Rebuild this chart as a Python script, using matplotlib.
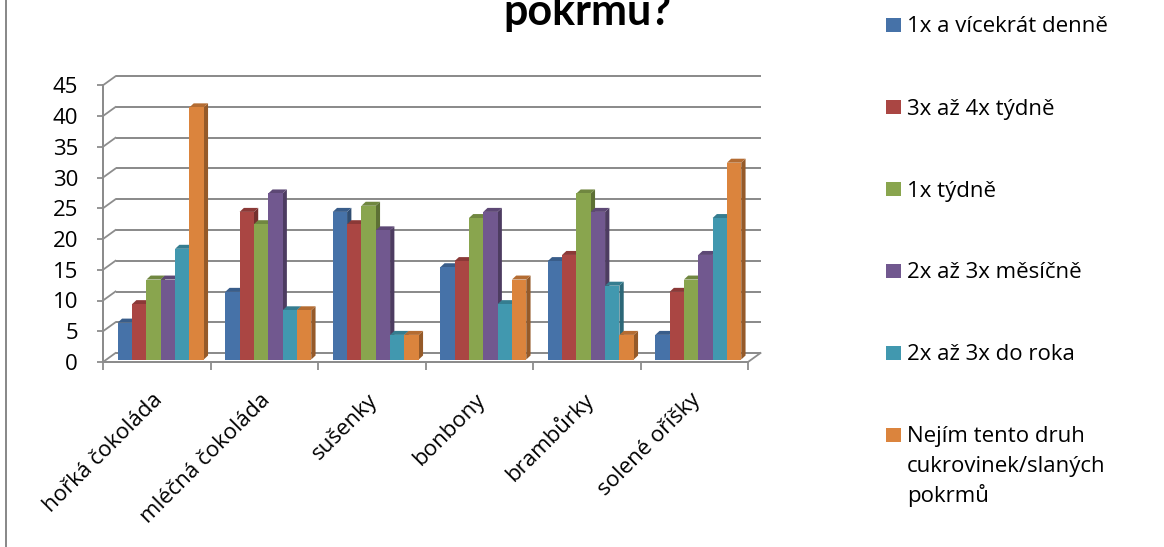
import matplotlib
matplotlib.use('Agg')
import matplotlib.pyplot as plt
from matplotlib.patches import Polygon, Rectangle
from matplotlib.lines import Line2D
from matplotlib import font_manager
from matplotlib.transforms import ScaledTranslation
import numpy as np

# ---------------- data ----------------
categories = ['hořká čokoláda', 'mléčná čokoláda', 'sušenky', 'bonbony',
              'brambůrky', 'solené oříšky']
series_names = ['1x a vícekrát denně', '3x až 4x týdně', '1x týdně',
                '2x až 3x měsíčně', '2x až 3x do roka',
                'Nejím tento druh\ncukrovinek/slaných\npokrmů']
s_daily = [6, 11, 24, 15, 16, 4]
s_3_4_week = [9, 24, 22, 16, 17, 11]
s_1_week = [13, 22, 25, 23, 27, 13]
s_2_3_month = [13, 27, 21, 24, 24, 17]
s_2_3_year = [18, 8, 4, 9, 12, 23]
s_never = [41, 8, 4, 13, 4, 32]
series = [s_daily, s_3_4_week, s_1_week, s_2_3_month, s_2_3_year, s_never]
y_ticks = [0, 5, 10, 15, 20, 25, 30, 35, 40, 45]
title_text = 'pokrmů?'

colors = ['#4672A8', '#AA4643', '#89A54E', '#71588F', '#4198AF', '#DB843D']

FONT = 'Open Sans'
plt.rcParams['font.family'] = [FONT, 'DejaVu Sans']

def has_font(name):
    try:
        font_manager.findfont(font_manager.FontProperties(family=name),
                              fallback_to_default=False)
        return True
    except Exception:
        return False

TITLE_FONT = 'Liberation Sans Narrow' if has_font('Liberation Sans Narrow') else 'Lato'

# ---------------- geometry (pixels) ----------------
W, H = 1164, 547
DPI = 100
x0px, x1px = 103, 748
y0px = 362
ppu_y = 6.15
ppu_x = (x1px - x0px) / 6.0

def px2pt(p):
    return p * 72.0 / DPI

fig = plt.figure(figsize=(W / DPI, H / DPI), dpi=DPI)
fig.patch.set_facecolor('white')
ax = fig.add_axes([x0px / W, (H - y0px) / H, (x1px - x0px) / W,
                   max(y_ticks) * ppu_y / H])
ax.set_xlim(0, len(categories))
ax.set_ylim(0, max(y_ticks))
ax.set_facecolor('none')

grid_c = '#8c8c8c'
wall_dx = 12.5 / ppu_x
wall_dy = 9.0 / ppu_y

# back wall gridlines + diagonals
for t in y_ticks:
    ax.add_line(Line2D([wall_dx, len(categories) + wall_dx], [t + wall_dy, t + wall_dy],
                       color=grid_c, lw=px2pt(2.0), clip_on=False, zorder=1,
                       solid_capstyle='butt'))
    ax.add_line(Line2D([0, wall_dx], [t, t + wall_dy], color=grid_c, lw=px2pt(1.8),
                       clip_on=False, zorder=1))
# floor right diagonal
ax.add_line(Line2D([len(categories), len(categories) + wall_dx], [0, wall_dy],
                   color=grid_c, lw=px2pt(1.8), clip_on=False, zorder=1))

# bars
n = len(series)
group_w = 0.8
bw = group_w / n
bar_dx0 = 4.0 / ppu_x
bar_dy0 = 2.5 / ppu_y
ddx = 4.3 / ppu_x
ddy = 4.0 / ppu_y

def shade(c, f):
    r, g, b = matplotlib.colors.to_rgb(c)
    return (r * f, g * f, b * f)

for j, vals in enumerate(series):
    xs = np.arange(len(categories)) + (1 - group_w) / 2 + j * bw + bar_dx0
    bars = ax.bar(xs, vals, width=bw, bottom=bar_dy0, align='edge',
                  color=colors[j], linewidth=0, clip_on=False)
    for i, (rect, v) in enumerate(zip(bars, vals)):
        z = 3 + i * n + j
        rect.set_zorder(z + 0.5)
        xl = rect.get_x()
        xr = xl + bw
        b = bar_dy0
        top = b + v
        side = Polygon([(xr, b), (xr + ddx, b + ddy), (xr + ddx, top + ddy), (xr, top)],
                       closed=True, facecolor=shade(colors[j], 0.68), edgecolor='none',
                       zorder=z, clip_on=False)
        topf = Polygon([(xl, top), (xr, top), (xr + ddx, top + ddy), (xl + ddx, top + ddy)],
                       closed=True, facecolor=shade(colors[j], 0.82), edgecolor='none',
                       zorder=z, clip_on=False)
        ax.add_patch(side)
        ax.add_patch(topf)

# axes spines
for s in ['top', 'right']:
    ax.spines[s].set_visible(False)
for s in ['left', 'bottom']:
    ax.spines[s].set_color(grid_c)
    ax.spines[s].set_linewidth(px2pt(2.0))
    ax.spines[s].set_zorder(2)

fs_axis = 16
ax.set_yticks(y_ticks)
ax.set_yticklabels([str(t) for t in y_ticks], fontsize=fs_axis)
ax.tick_params(axis='y', length=px2pt(6), width=px2pt(1.8), color=grid_c,
               pad=px2pt(19), direction='out')

ax.set_xticks(range(len(categories) + 1))
ax.set_xticklabels([])
ax.tick_params(axis='x', which='major', length=px2pt(8), width=px2pt(1.8),
               color=grid_c, direction='out')

# category labels (rotated 45 degrees)
lab_tr = ax.get_xaxis_transform() + ScaledTranslation(3 / DPI, -35 / DPI,
                                                      fig.dpi_scale_trans)
for i, cat in enumerate(categories):
    ax.text(i + 0.5, 0, cat, transform=lab_tr, rotation=45, ha='right',
            va='center', rotation_mode='anchor', fontsize=fs_axis, clip_on=False)

# title (cropped at top)
fig.text(587 / W, 1 - 25 / H, title_text, ha='center', va='baseline',
         fontsize=34 if TITLE_FONT != 'Lato' else 31, fontweight='bold',
         color='black', family=[TITLE_FONT, 'DejaVu Sans'])

# left frame line
fig.add_artist(Line2D([5.5 / W, 5.5 / W], [0, 1], color='#8a8a8a', lw=px2pt(2)))

# legend (manual)
fs_leg = 16
leg_centers = [25, 107, 189, 270.5, 352.5, 434.5]
for k, name in enumerate(series_names):
    yc = leg_centers[k]
    fig.add_artist(Rectangle((886 / W, 1 - (yc + 7) / H), 15 / W, 14 / H,
                             facecolor=colors[k], edgecolor='none',
                             transform=fig.transFigure))
    for li, line in enumerate(name.split('\n')):
        fig.text(907 / W, 1 - (yc + 7.5 + 30 * li) / H, line, ha='left',
                 va='baseline', fontsize=fs_leg, color='black')

fig.savefig('out.png', dpi=DPI, facecolor='white')
